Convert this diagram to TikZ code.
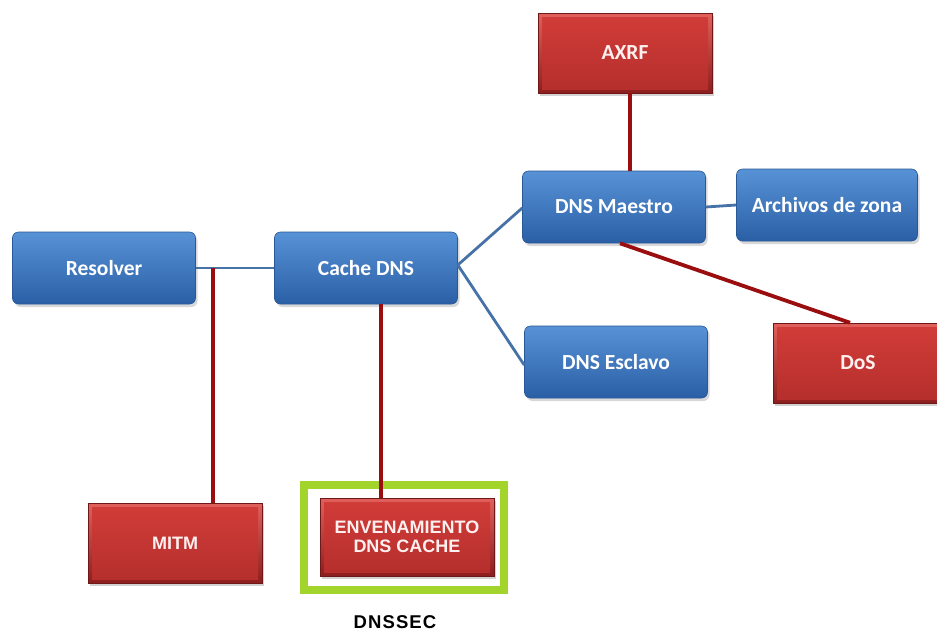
\documentclass[tikz,border=0pt]{standalone}
\usepackage{fontspec}
\setmainfont{Carlito}
\newfontfamily\arialbold{Liberation Sans}
\usetikzlibrary{shadows}

\definecolor{btop}{HTML}{5892D6}
\definecolor{bbot}{HTML}{2A5FA6}
\definecolor{bedge}{HTML}{285896}
\definecolor{rtop}{HTML}{E0615C}
\definecolor{rbot}{HTML}{8C1E1E}
\definecolor{rin1}{HTML}{D23D39}
\definecolor{rin2}{HTML}{B42E2C}
\definecolor{blink}{HTML}{4672A8}
\definecolor{rlink}{HTML}{9A0E10}
\definecolor{secgreen}{HTML}{A2D42C}

\tikzset{
  x=1pt, y=-1pt,
  bluebox/.style={rectangle, rounded corners=6pt, minimum width=183pt, minimum height=72pt,
    top color=btop, bottom color=bbot, draw=bedge, line width=0.6pt,
    drop shadow={shadow xshift=2pt, shadow yshift=-3pt, opacity=0.3},
    text=white, font=\fontsize{21.5}{24}\selectfont\bfseries, inner sep=0pt},
  redbox/.style={rectangle, minimum width=174pt, minimum height=80pt,
    top color=rtop, bottom color=rbot, draw=rbot!80!black, line width=0.5pt,
    path picture={\shade[top color=rin1, bottom color=rin2]
      ([shift={(4pt,-4pt)}]path picture bounding box.north west) rectangle
      ([shift={(-4pt,4pt)}]path picture bounding box.south east);},
    drop shadow={shadow xshift=2pt, shadow yshift=-3pt, opacity=0.35},
    text=white!94!red, font=\fontsize{21.5}{24}\selectfont\bfseries, inner sep=0pt},
  redarial/.style={redbox, font=\arialbold\fontsize{18}{19.5}\selectfont\bfseries, align=center},
  bluelink/.style={draw=blink, line width=2.8pt},
  redlink/.style={draw=rlink, line width=3.8pt},
}

\begin{document}
\begin{tikzpicture}
\useasboundingbox (0,0) rectangle (937,633);
\fill[white] (0,0) rectangle (937,633);

% protection frame around the cache poisoning attack
\draw[secgreen, line width=7.5pt] (304,485) rectangle (504,590);

% blue DNS components
\node[bluebox] (resolver) at (104,268) {Resolver};
\node[bluebox] (cache) at (366,268) {Cache DNS};
\node[bluebox] (maestro) at (614,207) {DNS Maestro};
\node[bluebox, minimum width=181pt] (zona) at (827,205) {Archivos de zona};
\node[bluebox] (esclavo) at (616,362) {DNS Esclavo};

% red attacks
\node[redbox] (axrf) at (625,53) {AXRF};
\node[redbox, minimum width=170pt] (dos) at (858,363) {DoS};
\node[redarial] (mitm) at (175,543) {MITM};
\node[redarial, minimum height=78pt] (poison) at (407,537) {ENVENAMIENTO\\[-1pt]DNS CACHE};

% label under the frame
\node[font=\arialbold\fontsize{18.5}{21}\selectfont\bfseries\addfontfeature{LetterSpace=6}, text=black] (dnssec) at (395,622) {DNSSEC};

% helper points on the component edges
\coordinate (mj) at (213,268);
\coordinate (cj) at ([yshift=3pt]cache.east);

% blue links between components
\path[bluelink] (resolver.east) -- (cache.west);
\path[bluelink] (cj) -- ([yshift=-1pt]maestro.west);
\path[bluelink] (cj) -- ([yshift=-3pt]esclavo.west);
\path[bluelink] (maestro.east) -- (zona.west);

% red links to the attacks
\path[redlink] (mj) -- (mj |- mitm.north);
\path[redlink] ([xshift=15pt]cache.south) -- ([xshift=-26pt]poison.north);
\path[redlink] ([xshift=16pt]maestro.north) -- ([xshift=5pt]axrf.south);
\path[redlink] ([xshift=6pt]maestro.south) -- ([xshift=-8pt]dos.north);
\end{tikzpicture}
\end{document}
